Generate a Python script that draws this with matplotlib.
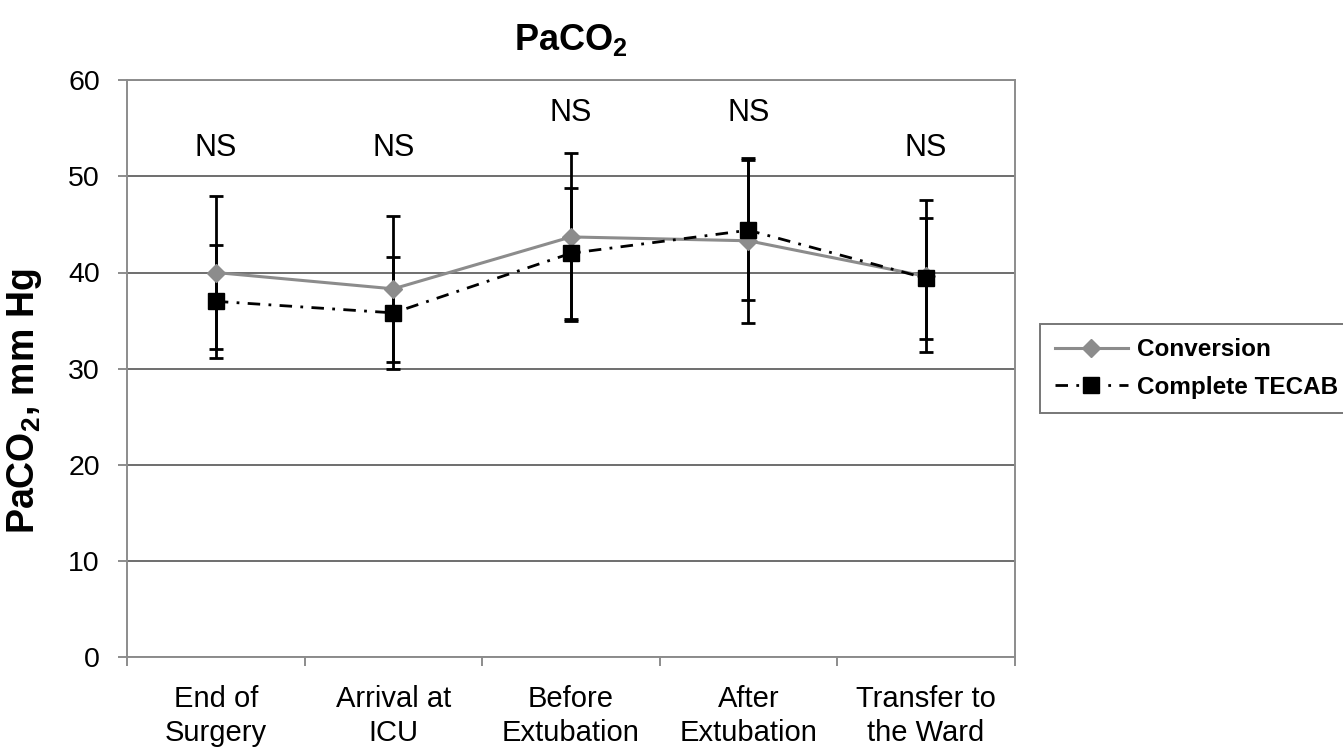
import matplotlib.pyplot as plt
import numpy as np

plt.rcParams['font.family'] = ['Liberation Sans', 'DejaVu Sans']

categories = ['End of\nSurgery', 'Arrival at\nICU', 'Before\nExtubation', 'After\nExtubation', 'Transfer to\nthe Ward']
conversion = [40.0, 38.3, 43.7, 43.3, 39.6]
conversion_sd = [8.0, 7.6, 8.7, 8.6, 7.9]
tecab = [37.0, 35.8, 42.0, 44.4, 39.4]
tecab_sd = [5.9, 5.8, 6.8, 7.3, 6.3]
ns_y = [52.9, 52.9, 56.6, 56.6, 52.9]

x = np.arange(len(categories))
gray = '#8c8c8c'

fig = plt.figure(figsize=(13.43, 7.5), dpi=100)
ax = fig.add_axes([0.0946, 0.124, 0.661, 0.769])

# error bars first, lines with markers on top
ax.errorbar(x, conversion, yerr=conversion_sd, fmt='none', ecolor='black',
            elinewidth=2, capsize=4.7, capthick=2, zorder=3)
ax.errorbar(x, tecab, yerr=tecab_sd, fmt='none', ecolor='black',
            elinewidth=2, capsize=4.7, capthick=2, zorder=3)
ax.plot(x, conversion, color=gray, lw=2.2, marker='D', ms=9, mfc=gray, mec=gray,
        label='Conversion', zorder=4)
ax.plot(x, tecab, color='black', lw=2, ls=(0, (4.5, 3, 1, 3)), marker='s', ms=11.5,
        mfc='black', mec='black', label='Complete TECAB', zorder=5)

for xi, yi in zip(x, ns_y):
    ax.text(xi, yi, 'NS', ha='center', va='center', fontsize=22)

ax.set_xlim(-0.5, 4.5)
ax.set_ylim(0, 60)
ax.set_yticks(range(0, 61, 10))
ax.yaxis.grid(True, color='#6e6e6e', lw=1.4)
ax.set_axisbelow(True)
ax.set_xticks(x)
ax.set_xticklabels(categories, fontsize=21, linespacing=1.3)
ax.set_xticks(np.arange(-0.5, 5, 1), minor=True)
ax.tick_params(axis='x', which='major', length=0, pad=20)
ax.tick_params(axis='x', which='minor', length=6.5, color=gray, width=1.4)
ax.tick_params(axis='y', labelsize=20.5, length=6.5, color=gray, width=1.4, pad=13)
for s in ax.spines.values():
    s.set_color(gray)
    s.set_linewidth(1.4)

ax.set_ylabel('PaCO$_\\mathregular{2}$, mm Hg', fontsize=27, fontweight='bold')
ax.yaxis.set_label_coords(-0.094, 0.444)
ax.set_title('PaCO$_\\mathregular{2}$', fontsize=26, fontweight='bold', pad=22)

leg = fig.legend(loc='center left', bbox_to_anchor=(0.7744, 0.5087), borderaxespad=0,
                 prop={'weight': 'bold', 'size': 17.5}, fancybox=False, edgecolor='#555555',
                 handlelength=3.0, handletextpad=0.4, borderpad=0.6, labelspacing=0.6)
leg.get_frame().set_linewidth(1.4)

fig.savefig('out.png', dpi=100)
